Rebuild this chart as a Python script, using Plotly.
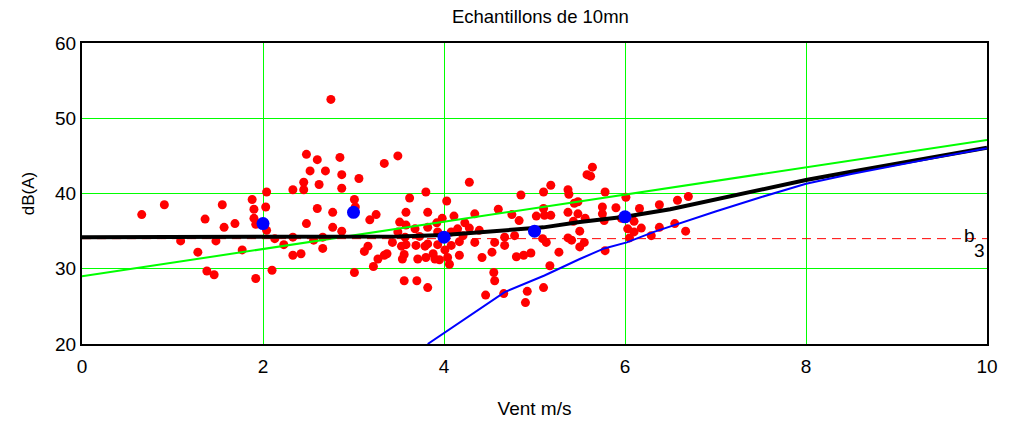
import plotly.graph_objects as go

# ---- data ----
red_x = [0.66, 0.91, 1.09, 1.28, 1.38, 1.46, 1.36, 1.55, 1.57, 1.48, 1.69, 1.77, 1.88, 1.90, 1.90, 1.92,
         1.92, 2.03, 2.04, 2.10, 2.04, 3.01, 3.02, 2.60, 2.77, 2.48, 2.77, 2.87, 3.18, 3.25, 3.58, 3.51,
         2.13, 2.33, 2.23, 2.56, 2.66, 2.66, 2.33, 2.42, 3.12, 3.16, 3.43, 3.53, 3.58, 3.27, 3.34, 3.37,
         3.54, 3.56, 3.22, 3.01, 3.56, 3.49, 3.57, 2.75, 2.48, 2.60, 2.85, 3.34, 3.49, 2.52, 2.69, 2.87,
         3.06, 2.45, 2.62, 2.87, 2.33, 2.45, 3.62, 3.80, 4.28, 4.03, 4.85, 5.10, 5.18, 5.64, 5.58, 5.62,
         5.37, 5.38, 5.78, 6.01, 6.58, 6.70, 3.82, 3.98, 4.11, 4.34, 4.60, 4.75, 4.83, 5.02, 5.10, 3.58,
         3.68, 3.82, 3.93, 4.08, 4.15, 4.21, 3.69, 3.82, 3.93, 4.08, 4.17, 4.34, 4.56, 4.67, 4.67, 4.78,
         3.71, 3.80, 3.88, 3.90, 3.95, 4.04, 4.06, 4.42, 4.53, 4.80, 4.88, 4.96, 4.55, 4.56, 3.70, 3.82,
         4.46, 4.66, 4.92, 4.90, 5.10, 5.17, 5.09, 5.11, 5.44, 5.48, 5.75, 5.75, 5.90, 6.16, 6.38, 5.18,
         5.37, 5.48, 5.56, 5.43, 5.77, 5.96, 6.10, 6.03, 6.18, 6.10, 6.05, 6.38, 6.55, 6.67, 6.29, 5.50,
         5.13, 5.37, 5.41, 5.50, 5.55, 5.27, 5.78, 3.92, 3.73, 4.23, 4.28, 4.39, 3.79, 4.01, 4.17]
red_y = [37.2, 38.5, 33.7, 32.2, 29.7, 29.2, 36.6, 38.5, 35.5, 33.7, 36.0, 32.5, 39.2, 37.9, 36.7, 35.9,
         28.7, 38.2, 40.2, 29.8, 35.1, 39.2, 38.2, 38.0, 37.5, 36.0, 35.5, 35.0, 36.5, 37.2, 37.5, 36.2,
         34.0, 34.2, 33.2, 33.8, 34.2, 32.7, 31.8, 32.0, 32.3, 33.0, 33.5, 33.0, 33.2, 31.3, 31.8, 32.0,
         31.3, 31.9, 30.3, 29.5, 28.4, 34.9, 34.2, 52.5, 45.2, 44.5, 44.8, 44.0, 45.0, 43.0, 43.0, 42.5,
         42.0, 41.5, 41.2, 40.7, 40.5, 40.5, 39.4, 40.2, 41.5, 39.0, 39.8, 40.2, 41.1, 43.5, 42.5, 42.3,
         40.5, 39.9, 40.2, 39.5, 39.1, 39.6, 37.5, 36.7, 37.0, 37.3, 37.9, 37.2, 36.4, 37.0, 38.0, 35.8,
         35.3, 35.5, 34.9, 34.9, 35.3, 34.4, 33.1, 33.3, 33.2, 33.1, 33.6, 33.5, 33.5, 34.2, 33.1, 34.4,
         31.3, 31.5, 32.0, 31.3, 31.2, 31.5, 30.6, 31.5, 32.2, 31.6, 31.8, 32.1, 29.5, 28.4, 28.4, 27.5,
         26.5, 26.7, 27.0, 25.5, 27.5, 30.4, 34.0, 37.1, 38.7, 38.9, 38.2, 37.3, 38.1, 38.0, 38.5, 37.1,
         37.5, 37.3, 36.7, 36.3, 36.4, 36.7, 36.3, 35.3, 35.4, 34.9, 34.1, 35.5, 36.0, 35.0, 34.4, 35.0,
         33.5, 34.1, 33.8, 32.9, 33.5, 32.2, 32.4, 36.1, 34.3, 36.1, 35.4, 35.1, 33.0, 32.5, 31.8]

blue_pts_x = [2, 3, 4, 5, 6]
blue_pts_y = [36.0, 37.5, 34.2, 35.0, 36.9]

green_x = [0, 10]
green_y = [29.0, 47.1]

blue_curve_x = [3.82, 4.04, 4.32, 4.67, 5.11, 5.5, 5.77, 6.02, 6.32, 6.82, 7.0, 7.5, 8.0, 8.5, 9.0, 9.5, 10.0]
blue_curve_y = [20.0, 21.8, 24.0, 26.9, 29.1, 31.3, 32.7, 33.5, 34.9, 36.9, 37.6, 39.5, 41.3, 42.6, 43.8, 44.9, 46.0]

black_x = [0, 3.5, 4.0, 4.5, 5.1, 5.5, 6.0, 6.5, 7.0, 7.5, 8.0, 8.5, 9.0, 9.5, 10.0]
black_y = [34.2, 34.3, 34.5, 34.9, 35.5, 36.2, 36.9, 37.9, 39.2, 40.5, 41.8, 42.9, 44.0, 45.0, 46.1]

b3_level = 34.0

x_ticks = [0, 2, 4, 6, 8, 10]
y_ticks = [20, 30, 40, 50, 60]

FONT = "Liberation Sans, Arial, sans-serif"

fig = go.Figure()
fig.add_trace(go.Scatter(x=red_x, y=red_y, mode="markers",
                         marker=dict(color="#ff0000", size=9), hoverinfo="skip"))
fig.add_trace(go.Scatter(x=green_x, y=green_y, mode="lines",
                         line=dict(color="#00ff00", width=2), hoverinfo="skip"))
fig.add_trace(go.Scatter(x=[0, 10], y=[b3_level, b3_level], mode="lines",
                         line=dict(color="#ff0000", width=1, dash="9px,6px"), hoverinfo="skip"))
fig.add_trace(go.Scatter(x=black_x, y=black_y, mode="lines",
                         line=dict(color="#000000", width=4), hoverinfo="skip"))
fig.add_trace(go.Scatter(x=blue_curve_x, y=blue_curve_y, mode="lines",
                         line=dict(color="#0000ff", width=2), hoverinfo="skip"))
fig.add_trace(go.Scatter(x=blue_pts_x, y=blue_pts_y, mode="markers",
                         marker=dict(color="#0000ff", size=13), hoverinfo="skip"))

# "b" with a large subscript "3", as in the reference
fig.add_annotation(x=10, y=b3_level, xref="x", yref="y", text="b",
                   showarrow=False, xanchor="right", yanchor="bottom", xshift=-10, yshift=-9,
                   font=dict(family=FONT, size=19, color="black"))
fig.add_annotation(x=10, y=b3_level, xref="x", yref="y", text="3",
                   showarrow=False, xanchor="right", yanchor="top", xshift=0, yshift=1,
                   font=dict(family=FONT, size=19, color="black"))

axis_common = dict(showline=True, linecolor="black", linewidth=2, mirror=True,
                   showgrid=True, gridcolor="#00ff00", gridwidth=1, zeroline=False,
                   automargin=False,
                   ticks="", tickfont=dict(family=FONT, size=19, color="black"))

fig.update_layout(
    width=1012, height=425,
    margin=dict(l=82, r=25, t=43, b=81),
    paper_bgcolor="white", plot_bgcolor="white",
    showlegend=False,
    title=dict(text="Echantillons de 10mn", x=0.534, xanchor="center", y=0.96, yanchor="middle",
               font=dict(family=FONT, size=18.5, color="black")),
    xaxis=dict(range=[0, 10], tickvals=x_ticks, ticklabelstandoff=4,
               title=dict(text="Vent m/s", standoff=26,
                          font=dict(family=FONT, size=19, color="black")), **axis_common),
    yaxis=dict(range=[20, 60], tickvals=y_ticks,
               title=dict(text="dB(A)", standoff=16,
                          font=dict(family=FONT, size=17, color="black")), **axis_common),
)

fig.write_html("out.html", config={"displayModeBar": False})
